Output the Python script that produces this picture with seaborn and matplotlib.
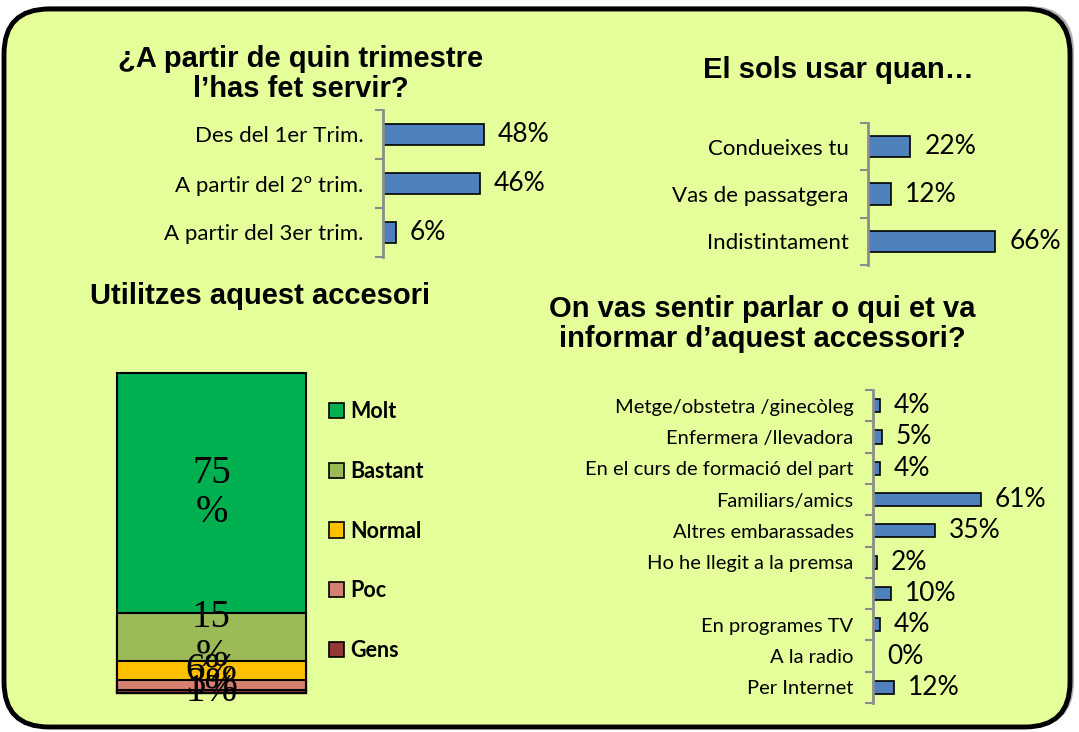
import numpy as np
import pandas as pd
import matplotlib.pyplot as plt
import seaborn as sns
from matplotlib.patches import FancyBboxPatch, Patch

# --- dades ---
trim_cat = ["Des del 1er Trim.", "A partir del 2º trim.", "A partir del 3er trim."]
trim_pct = [48, 46, 6]

quan_cat = ["Condueixes tu", "Vas de passatgera", "Indistintament"]
quan_pct = [22, 12, 66]

us_cat = ["Molt", "Bastant", "Normal", "Poc", "Gens"]
us_pct = [75, 15, 6, 3, 1]
us_col = ["#00B050", "#9BBB59", "#FFC000", "#D8806F", "#953735"]

font_cat = ["Metge/obstetra /ginecòleg", "Enfermera /llevadora",
            "En el curs de formació del part", "Familiars/amics",
            "Altres embarassades", "Ho he llegit a la premsa", "",
            "En programes TV", "A la radio", "Per Internet"]
font_pct = [4, 5, 4, 61, 35, 2, 10, 4, 0, 12]

W, H = 1079, 732
sns.set_theme(style="white")
plt.rcParams['font.family'] = ['Lato', 'DejaVu Sans']
plt.rcParams['text.color'] = 'black'
plt.rcParams['ytick.color'] = 'black'

fig = plt.figure(figsize=(W / 100, H / 100), dpi=100)
fig.patch.set_facecolor('white')


def px(l, t, r, b):
    return [l / W, 1 - b / H, (r - l) / W, (b - t) / H]


# fons arrodonit
bg = fig.add_axes([0, 0, 1, 1], zorder=-5)
bg.set_xlim(0, W)
bg.set_ylim(H, 0)
bg.axis('off')
bg.add_patch(FancyBboxPatch((8, 6), 1066, 721, boxstyle="round,pad=0,rounding_size=45",
                            fc='#b0b0b0', ec='none'))
bg.add_patch(FancyBboxPatch((4, 9), 1066, 718, boxstyle="round,pad=0,rounding_size=45",
                            fc='#E5FF9A', ec='black', lw=3.5))


def hbar(rect, cats, vals, bw, lsize):
    ax = fig.add_axes(rect)
    df = pd.DataFrame({'cat': cats, 'pct': vals})
    sns.barplot(data=df, x='pct', y='cat', order=cats, orient='h', color='#4F81BD',
                saturation=1, width=bw, edgecolor='black', linewidth=1.2, ax=ax)
    n = len(cats)
    ax.set_xlim(0, 100)
    ax.set_ylim(n - 0.5, -0.5)
    ax.set_yticks(range(n))
    ax.set_yticklabels(cats)
    ax.set_yticks(np.arange(-0.5, n), minor=True)
    ax.tick_params(axis='y', which='major', length=0, pad=14, labelsize=lsize,
                   labelcolor='black')
    ax.tick_params(axis='y', which='minor', left=True, length=6, width=1.5, color='#8c8c8c')
    ax.set_xticks([])
    ax.set_xlabel('')
    ax.set_ylabel('')
    for s in ['top', 'right', 'bottom']:
        ax.spines[s].set_visible(False)
    ax.spines['left'].set_color('#8c8c8c')
    ax.spines['left'].set_linewidth(2)
    ax.patch.set_alpha(0)
    ax.bar_label(ax.containers[0], fmt='{:.0f}%', padding=10, fontsize=19, color='black')
    return ax


ax1 = hbar(px(383, 110, 593, 257), trim_cat, trim_pct, 0.41, 16)
ax2 = hbar(px(868, 123, 1061, 265), quan_cat, quan_pct, 0.45, 16)
ax4 = hbar(px(873, 390, 1050, 703), font_cat, font_pct, 0.42, 14.5)

# barra apilada
ax3 = fig.add_axes(px(117, 373, 306, 693))
cum = np.cumsum(us_pct[::-1])[::-1]
for cat, c, col in zip(us_cat, cum, us_col):
    sns.barplot(x=['Utilitzes'], y=[c], color=col, saturation=1, width=1,
                edgecolor='black', linewidth=1.5, ax=ax3)
for p in ax3.patches:
    p.set_clip_on(False)
ax3.set_xlim(-0.5, 0.5)
ax3.set_ylim(0, 100)
ax3.axis('off')
for v, c in zip(us_pct, cum):
    lbl = f"{v}\n%" if v >= 10 else f"{v}%"
    ax3.text(0, c - v / 2, lbl, ha='center', va='center', fontsize=28,
             family='Liberation Serif', color='black', linespacing=1.05)

handles = [Patch(facecolor=c, edgecolor='black', lw=1.2) for c in us_col]
fig.legend(handles, us_cat, loc='upper left', bbox_to_anchor=(329 / W, 1 - 401 / H),
           frameon=False, prop={'family': 'Lato', 'weight': 'bold', 'size': 15.5},
           handlelength=0.7, handleheight=0.7, handletextpad=0.3, labelspacing=1.8,
           borderpad=0, borderaxespad=0)

# titols
tkw = dict(ha='center', va='center', fontsize=21, fontweight='bold',
           family='Liberation Sans', linespacing=1.12, color='black')
fig.text(301 / W, 1 - 74 / H, "¿A partir de quin trimestre\nl’has fet servir?", **tkw)
fig.text(838 / W, 1 - 70 / H, "El sols usar quan…", **tkw)
fig.text(260 / W, 1 - 296 / H, "Utilitzes aquest accesori", **tkw)
fig.text(762 / W, 1 - 324 / H, "On vas sentir parlar o qui et va\ninformar d’aquest accessori?", **tkw)

fig.savefig('out.png', dpi=100)
